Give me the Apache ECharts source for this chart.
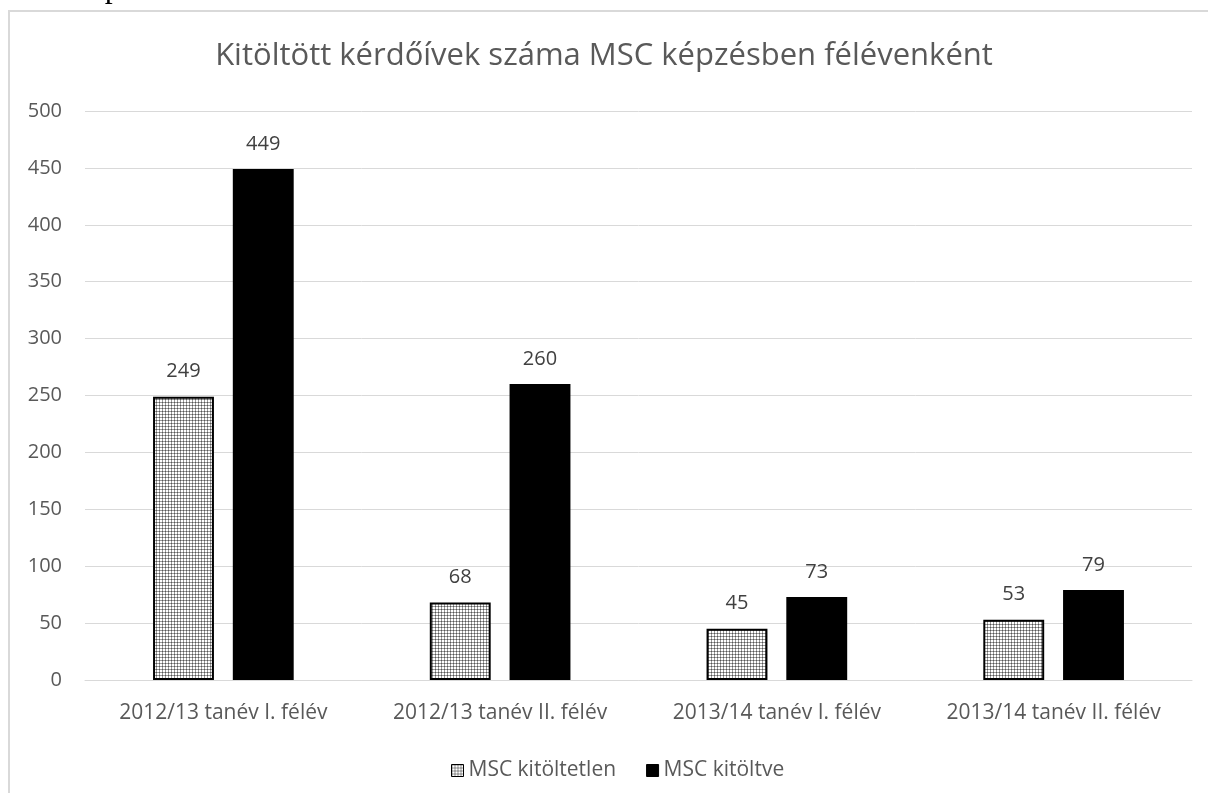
<!DOCTYPE html>
<html><head><meta charset="utf-8">
<script src="https://cdn.jsdelivr.net/npm/echarts@6/dist/echarts.min.js"></script>
<style>html,body{margin:0;padding:0;background:#fff;}#c{width:1208px;height:793px;}</style>
</head><body><div id="c"></div>
<script>
const categories = ['2012/13 tanév I. félév','2012/13 tanév II. félév','2013/14 tanév I. félév','2013/14 tanév II. félév'];
const seriesNames = ['MSC kitöltetlen','MSC kitöltve'];
const kitoltetlen = [249, 68, 45, 53];
const kitoltve = [449, 260, 73, 79];
const yTicks = {min:0, max:500, interval:50};

const pc = document.createElement('canvas');
pc.width = 3; pc.height = 3;
const g = pc.getContext('2d');
g.fillStyle = '#ffffff'; g.fillRect(0,0,3,3);
g.fillStyle = '#9a9a9a'; g.fillRect(0,0,3,1); g.fillRect(0,0,1,3);
g.fillStyle = '#555'; g.fillRect(0,0,1,1);
const pattern = {image: pc, repeat: 'repeat'};

const font = '"Open Sans", Lato, sans-serif';
const chart = echarts.init(document.getElementById('c'));
chart.setOption({
  animation:false,
  textStyle:{fontFamily:font},
  title:{text:'Kitöltött kérdőívek száma MSC képzésben félévenként', left:'center', top:36,
    textStyle:{fontSize:31, fontWeight:'normal', color:'#595959', fontFamily:font}},
  graphic:[
    {type:'rect', shape:{x:9, y:11, width:1210, height:800}, style:{fill:'none', stroke:'#d9d9d9', lineWidth:2}, z:-1},
    {type:'text', x:-1, y:-11, style:{text:'MSC képzés', font:'32px "Liberation Serif", serif', fill:'#000', verticalAlign:'middle', align:'left'}}
  ],
  legend:{data:seriesNames, left:446, top:755, itemWidth:12, itemHeight:12, itemGap:30, icon:'rect',
    textStyle:{fontSize:21, color:'#595959', fontFamily:font},
    itemStyle:{borderColor:'#000', borderWidth:1}},
  grid:{left:85, right:16, top:111, bottom:113},
  xAxis:{type:'category', data:categories,
    axisLine:{lineStyle:{color:'#d9d9d9', width:1}}, axisTick:{show:false},
    axisLabel:{interval:0, fontSize:21, color:'#595959', margin:23, fontFamily:font}},
  yAxis:{type:'value', min:yTicks.min, max:yTicks.max, interval:yTicks.interval,
    axisLine:{show:false}, axisTick:{show:false},
    splitLine:{lineStyle:{color:'#d9d9d9', width:1}},
    axisLabel:{fontSize:20, color:'#595959', margin:23, fontFamily:font}},
  series:[
    {name:seriesNames[0], type:'bar', data:kitoltetlen, barWidth:'22%', barGap:'31%',
      itemStyle:{color:pattern, borderColor:'#000', borderWidth:2},
      label:{show:true, position:'top', distance:15, fontSize:20, color:'#404040', fontFamily:font}},
    {name:seriesNames[1], type:'bar', data:kitoltve, barWidth:'22%',
      itemStyle:{color:'#000', borderColor:'#000', borderWidth:2},
      label:{show:true, position:'top', distance:15, fontSize:20, color:'#404040', fontFamily:font}}
  ]
});
</script></body></html>
